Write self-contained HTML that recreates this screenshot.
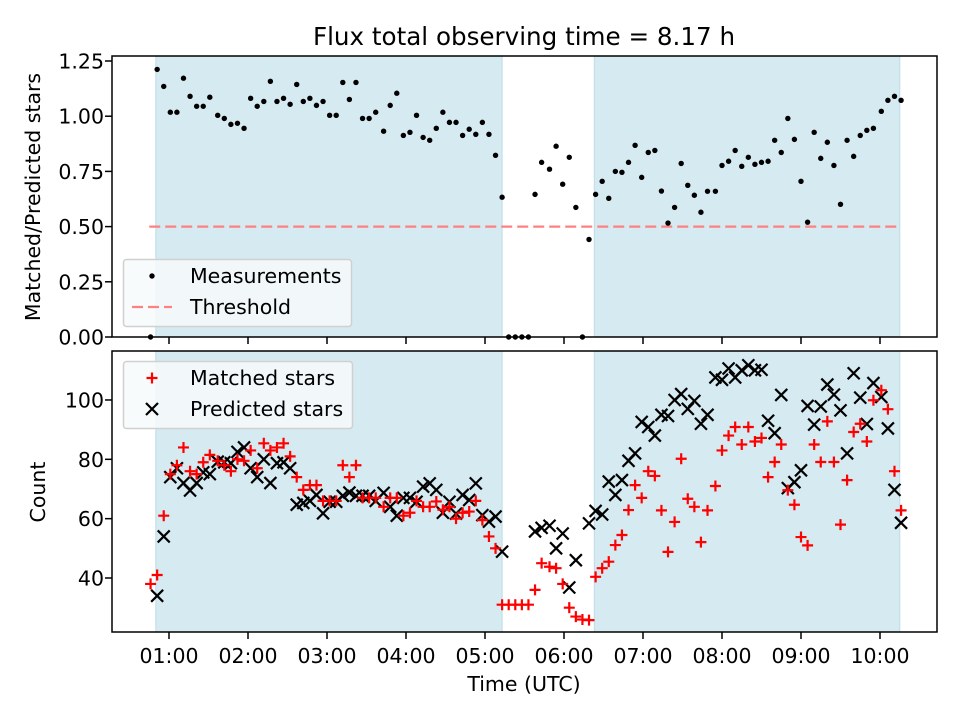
<!DOCTYPE html>
<html><head><meta charset="utf-8"><style>
body{margin:0;background:#fff}
svg{display:block;font-family:"DejaVu Sans","Liberation Sans",sans-serif}
</style></head><body>
<svg id="chart" width="960" height="720" viewBox="0 0 960 720" xmlns="http://www.w3.org/2000/svg"></svg>
<script>
// ---- data ----
const timesMin = [46,51,56,61,66,71,76,81,86,91,
97,102,107,112,117,122,127,132,137,142,
147,152,157,162,167,172,177,182,187,192,
197,202,207,212,217,
223,228,233,238,243,
248,253,258,263,268,273,278,283,288,293,
298,303,308,313,318,323,328,333,338,343,
349,354,359,364,369,374,379,384,389,394,
399,404,409,414,419,424,429,434,439,444,
449,454,459,464,469,
475,480,485,490,495,
500,505,510,515,520,525,530,535,540,545,
550,555,560,565,570,575,580,585,590,595,
601,606,611,616];
const ratioValues = [0,
1.212,1.135,1.018,1.018,1.172,1.090,1.045,1.045,1.086,1.004,
0.990,0.963,0.968,0.945,1.081,1.045,1.067,1.158,1.067,1.081,
1.054,1.144,1.067,1.081,1.049,1.067,1.004,1.004,1.153,1.076,
1.153,0.990,0.990,1.018,0.932,1.049,1.104,0.913,0.927,1.004,
0.904,0.891,0.945,1.018,0.972,0.972,0.913,0.941,0.918,0.972,
0.918,0.823,0.633,
0,0,0,0,
0.646,0.791,0.760,0.864,0.692,0.814,0.587,0,0.442,0.646,
0.705,0.628,0.750,0.746,0.791,0.868,0.723,0.836,0.845,0.661,
0.516,0.587,0.786,0.687,0.642,0.565,0.660,0.660,0.777,0.796,
0.845,0.773,0.814,0.782,0.791,0.796,0.891,0.836,0.990,0.895,
0.705,0.520,0.927,0.809,0.882,0.777,0.601,0.891,0.818,0.913,
0.936,0.945,1.022,1.072,1.090,1.072];
const matchedValues = [38,41,61,75,78,84,76,75,79,81.5,
79.5,78,76,80,79.5,83,77,85.4,83,84,
85.4,81,74,69.7,71.3,71.3,66,66,66,78,
74,78,67,67,67,64,67,67,61,62,
66,64,64,65.8,63,64,60,62,62.4,66,
59.5,54,50,31,31,31,31,31,36,45,
43.8,43.3,38,30,27,26,25.8,40.4,43.3,45.5,
51.1,54.5,62.9,71.3,67,76,74.4,62.8,48.8,58.9,
80.2,66.7,64,52.1,62.8,71,83,88,90.9,85,
90.9,86,87.2,74,79.1,85,69.6,64.7,53.8,51,
85,79.1,92.8,79.1,58,73,89.2,92,86,99.9,
103.3,96.9,76,62.8];
const predictedValues = [null,34,54,74,77,72,69.5,72,75.6,75,
79.2,79,78.7,82.5,84,77,74,80,72,78.7,
79,77,64.7,65.3,66,68,61.8,65.7,65.7,67.7,
68.8,67.7,67.7,67.7,66,68.7,64,61,67,67,
65.7,70.8,71.9,69.7,62,65.7,61.7,68,66.3,71.9,
61.2,59,60.7,48.9,null,null,null,null,55.7,56.9,
57.6,50,55,36.8,46,null,58.4,62.6,61.4,72.5,
68,73,79.5,82,92.6,90.9,88,95,94.6,100,
102,97,99.7,92,95,107.6,106.8,110.6,107.6,110,
111.7,110,110.2,93,88.8,101.7,70.3,72.3,76.3,98,
91.7,97.8,105.2,101.8,96.5,82,109,100.8,91.9,105.7,
101,90.4,69.7,58.6];
const shadeSpans = [[50,313],[383,615]];
const thresholdValue = 0.5;
const thresholdSpan = [45,615];
const xTickLabels = ["01:00","02:00","03:00","04:00","05:00","06:00","07:00","08:00","09:00","10:00"];
const xTickMin = [60,120,180,240,300,360,420,480,540,600];
const topTicks = [0,0.25,0.5,0.75,1.0,1.25];
const bottomTicks = [40,60,80,100];

// ---- geometry ----
const NS="http://www.w3.org/2000/svg";
const svg=document.getElementById('chart');
const L=112,R=937,T1=56,B1=337,T2=351,B2=632;
const FS=20.5;
const xS=m=>90+m/60*79;
const yTop=v=>337-v*220.8;
const yBot=v=>578-(v-40)*2.967;
function mk(tag,attrs,parent){const e=document.createElementNS(NS,tag);for(const k in attrs)e.setAttribute(k,attrs[k]);(parent||svg).appendChild(e);return e;}

function panel(T,B,name){
  const g=mk('g',{});
  
  
  shadeSpans.forEach(s=>{
    const r=mk('rect',{x:xS(s[0]),y:T,width:xS(s[1])-xS(s[0]),height:B-T,fill:'#d5eaf1',stroke:'#bcdde7','stroke-width':1},g);
    
    
  });
  return g;
}
const gTop=panel(T1,B1,'top-panel');
const gBot=panel(T2,B2,'bottom-panel');

const th=mk('line',{x1:xS(thresholdSpan[0]),x2:xS(thresholdSpan[1]),y1:yTop(thresholdValue),y2:yTop(thresholdValue),stroke:'#ff8080','stroke-width':2.2,'stroke-dasharray':'11,5'},gTop);



timesMin.forEach((t,i)=>{
  const c=mk('circle',{cx:xS(t),cy:yTop(ratioValues[i]),r:2.7,fill:'#000'},gTop);
  
  
});
timesMin.forEach((t,i)=>{
  const v=predictedValues[i]; if(v===null)return;
  const x=xS(t),y=yBot(v),d=6;
  const p=mk('path',{d:`M${x-d} ${y-d}L${x+d} ${y+d}M${x-d} ${y+d}L${x+d} ${y-d}`,stroke:'#000','stroke-width':2.2},gBot);
  
  
});
timesMin.forEach((t,i)=>{
  const x=xS(t),y=yBot(matchedValues[i]),d=5.5;
  const p=mk('path',{d:`M${x-d} ${y}L${x+d} ${y}M${x} ${y-d}L${x} ${y+d}`,stroke:'#ff0000','stroke-width':2.2},gBot);
  
  
});

[[T1,B1,'top-axes-frame'],[T2,B2,'bottom-axes-frame']].forEach(a=>{
  const r=mk('rect',{x:L,y:a[0],width:R-L,height:a[1]-a[0],fill:'none',stroke:'#000','stroke-width':1.5});
  
  
  xTickMin.forEach(m=>mk('line',{x1:xS(m),x2:xS(m),y1:a[1],y2:a[1]+7,stroke:'#000','stroke-width':1.5}));
});
xTickMin.forEach((m,i)=>{
  const t=mk('text',{x:xS(m),y:663,'text-anchor':'middle','font-size':FS});
  t.textContent=xTickLabels[i];
  
  
});
topTicks.forEach(v=>{
  const y=yTop(v);
  mk('line',{x1:L-7,x2:L,y1:y,y2:y,stroke:'#000','stroke-width':1.5});
  const t=mk('text',{x:L-8,y:y+7.5,'text-anchor':'end','font-size':FS});
  t.textContent=v.toFixed(2);
  
  
});
bottomTicks.forEach(v=>{
  const y=yBot(v);
  mk('line',{x1:L-7,x2:L,y1:y,y2:y,stroke:'#000','stroke-width':1.5});
  const t=mk('text',{x:L-8,y:y+7.5,'text-anchor':'end','font-size':FS});
  t.textContent=v;
  
  
});
</script>
<script>
(function(){
const NS="http://www.w3.org/2000/svg";const svg=document.getElementById('chart');
function mk(tag,attrs,txt){const e=document.createElementNS(NS,tag);for(const k in attrs)e.setAttribute(k,attrs[k]);if(txt)e.textContent=txt;svg.appendChild(e);return e;}
const FS=20.5;
let e;
e=mk('text',{x:524,y:45,'text-anchor':'middle','font-size':24.6},'Flux total observing time = 8.17 h');


e=mk('text',{x:524,y:691,'text-anchor':'middle','font-size':FS},'Time (UTC)');


e=mk('text',{x:40,y:197,'text-anchor':'middle','font-size':FS,transform:'rotate(-90 40 197)'},'Matched/Predicted stars');


e=mk('text',{x:45,y:492,'text-anchor':'middle','font-size':FS,transform:'rotate(-90 45 492)'},'Count');


e=mk('rect',{x:123.5,y:259.5,width:228,height:67,rx:3,fill:'#f7fafc','fill-opacity':0.85,stroke:'#d0d0d0','stroke-width':1.5});


mk('circle',{cx:152,cy:276,r:2.7,fill:'#000'});
e=mk('text',{x:190,y:283,'font-size':FS},'Measurements');


mk('line',{x1:132,x2:172,y1:307,y2:307,stroke:'#ff8080','stroke-width':2.2,'stroke-dasharray':'11,5'});
e=mk('text',{x:190,y:314,'font-size':FS},'Threshold');


e=mk('rect',{x:123.5,y:361.5,width:229,height:67,rx:3,fill:'#f7fafc','fill-opacity':0.85,stroke:'#d0d0d0','stroke-width':1.5});


mk('path',{d:'M146.5 378H157.5M152 372.5V383.5',stroke:'#ff0000','stroke-width':2.2});
e=mk('text',{x:190,y:385,'font-size':FS},'Matched stars');


mk('path',{d:'M146 403L158 415M146 415L158 403',stroke:'#000','stroke-width':2.2});
e=mk('text',{x:190,y:416,'font-size':FS},'Predicted stars');


})();
</script>
</body></html>
